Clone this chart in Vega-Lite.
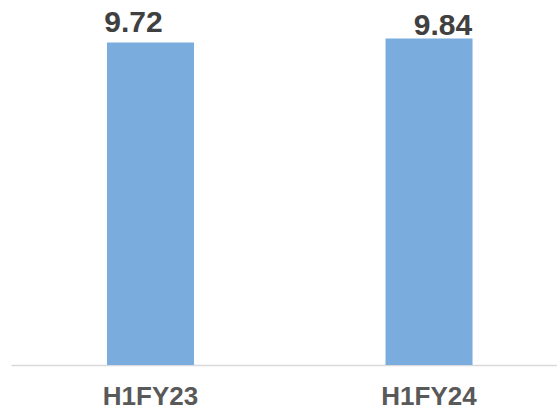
{
  "$schema": "https://vega.github.io/schema/vega-lite/v6.json",
  "autosize": {"type": "none"},
  "padding": {"left": 11, "top": 0, "right": 0, "bottom": 41},
  "width": 546,
  "height": 365,
  "background": "white",
  "config": {"view": {"stroke": null}, "font": "Liberation Sans"},
  "data": {"values": [
    {"period": "H1FY23", "value": 9.72},
    {"period": "H1FY24", "value": 9.84}
  ]},
  "encoding": {
    "x": {
      "field": "period", "type": "nominal", "sort": null,
      "scale": {"paddingInner": 0.6876, "paddingOuter": 0.324, "align": 0.532},
      "axis": {
        "title": null, "labelAngle": 0, "ticks": false,
        "domainColor": "#d9d9d9", "domainWidth": 1.5,
        "labelFont": "Liberation Sans", "labelFontSize": 26, "labelFontWeight": "bold",
        "labelColor": "#595959", "labelBaseline": "alphabetic", "labelPadding": 39.5
      }
    },
    "y": {
      "field": "value", "type": "quantitative",
      "scale": {"domain": [0, 11], "nice": false, "zero": true},
      "axis": null
    }
  },
  "layer": [
    {"mark": {"type": "bar", "color": "#7AACDD"}},
    {
      "transform": [{"filter": "datum.period == 'H1FY23'"}],
      "mark": {"type": "text", "fontSize": 30, "fontWeight": "bold", "color": "#404040", "baseline": "alphabetic", "dx": -17, "dy": -10.5},
      "encoding": {"text": {"field": "value", "type": "quantitative", "format": ".2f"}}
    },
    {
      "transform": [{"filter": "datum.period == 'H1FY24'"}],
      "mark": {"type": "text", "fontSize": 30, "fontWeight": "bold", "color": "#404040", "baseline": "alphabetic", "dx": 14, "dy": -3.5},
      "encoding": {"text": {"field": "value", "type": "quantitative", "format": ".2f"}}
    }
  ]
}
